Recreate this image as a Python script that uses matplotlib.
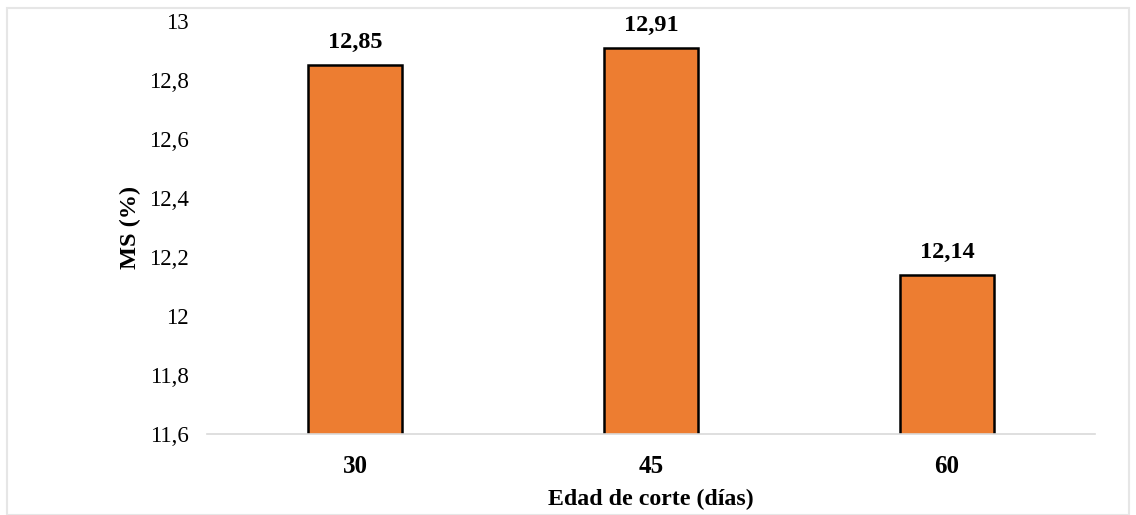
import matplotlib
matplotlib.use("Agg")
import matplotlib.pyplot as plt
from matplotlib.patches import Rectangle
from matplotlib.ticker import FuncFormatter

categories = ["30", "45", "60"]
values = [12.85, 12.91, 12.14]
y_ticks = [11.6, 11.8, 12.0, 12.2, 12.4, 12.6, 12.8, 13.0]

plt.rcParams['font.family'] = ['Liberation Serif', 'DejaVu Serif']

fig = plt.figure(figsize=(11.36, 5.15), dpi=100)
ax = fig.add_axes([207/1136, 1-434/515, (1095-207)/1136, (434-21)/515])

x = list(range(len(categories)))
ax.bar(x, values, width=0.32, color="#ED7D31", edgecolor="black", linewidth=1.8, zorder=2)

for xi, v in zip(x, values):
    ax.text(xi, v + 0.04, f"{v:.2f}".replace(".", ","), ha="center", va="bottom",
            fontsize=17.5, fontweight="bold")

ax.set_xlim(-0.5, 2.5)
ax.set_ylim(11.6, 13.0)
ax.set_yticks(y_ticks)
ax.yaxis.set_major_formatter(FuncFormatter(lambda v, p: (f"{v:.1f}".rstrip("0").rstrip(".")).replace(".", ",")))
ax.set_xticks(x)
ax.set_xticklabels(categories, fontweight="bold", fontsize=18)
ax.tick_params(axis="y", length=0, pad=13, labelsize=16.5)
ax.tick_params(axis="x", length=0, pad=15)

for s in ["top", "right", "left"]:
    ax.spines[s].set_visible(False)
ax.spines["bottom"].set_color("#d9d9d9")
ax.spines["bottom"].set_linewidth(1.2)
ax.spines["bottom"].set_zorder(3)

ax.set_ylabel("MS (%)", fontweight="bold", fontsize=17.5, labelpad=6)
ax.set_xlabel("Edad de corte (días)", fontweight="bold", fontsize=17.2, labelpad=8)

fig.patches.append(Rectangle((7/1136, 0), (1129-7)/1136, 1-8/515, transform=fig.transFigure,
                             fill=False, edgecolor="#e6e6e6", linewidth=1.5))

fig.savefig("out.png", dpi=100)
